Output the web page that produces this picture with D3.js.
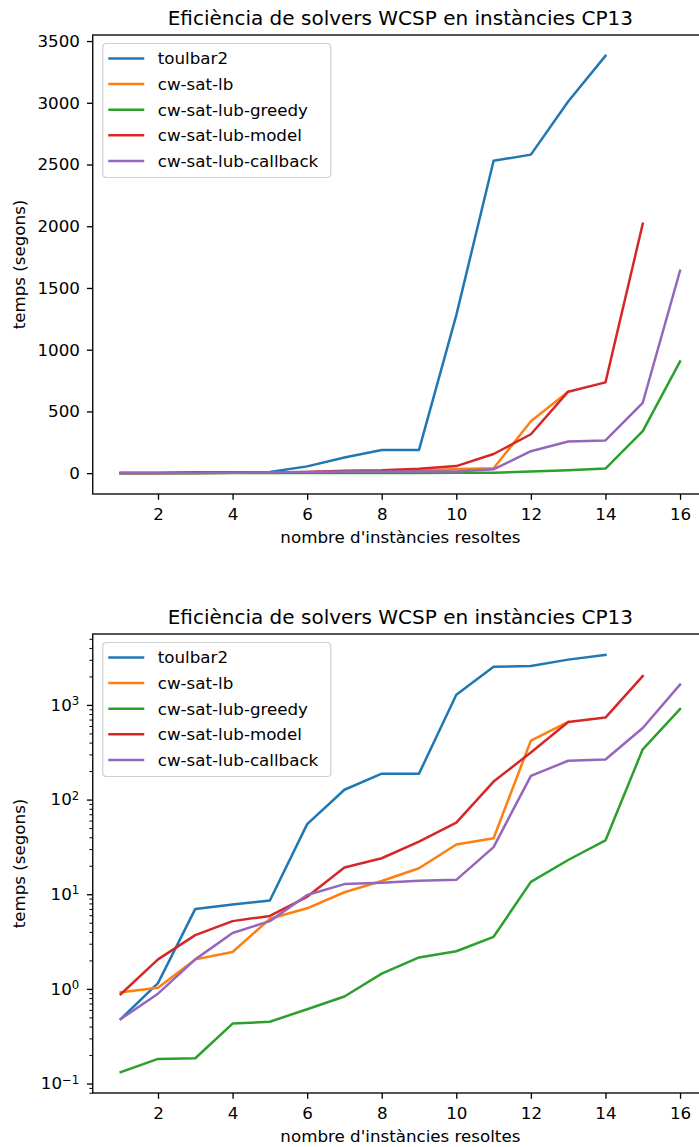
<!DOCTYPE html>
<html>
<head>
<meta charset="utf-8">
<script src="https://cdn.jsdelivr.net/npm/d3@7"></script>
<style>
  body { margin: 0; background: #fff; }
  svg { display: block; font-family: "DejaVu Sans", sans-serif; }
</style>
</head>
<body>
<div id="container"></div>
<script>
var W = 699, H = 1147;
var FS = 16.7;

var TITLE = "Eficiència de solvers WCSP en instàncies CP13";
var XLABEL = "nombre d'instàncies resoltes";
var YLABEL = "temps (segons)";

var seriesNames = ["toulbar2", "cw-sat-lb", "cw-sat-lub-greedy", "cw-sat-lub-model", "cw-sat-lub-callback"];
var seriesColors = ["#1f77b4", "#ff7f0e", "#2ca02c", "#d62728", "#9467bd"];

// temps per nombre d'instàncies resoltes (x = 1..n)
var toulbar2 = [0.48, 1.15, 7.0, 7.8, 8.6, 55, 127, 188, 188, 1280, 2530, 2580, 3010, 3380];
var cwSatLb = [0.92, 1.03, 2.05, 2.45, 5.5, 7.1, 10.5, 13.8, 18.8, 33.5, 39, 420, 660];
var cwSatLubGreedy = [0.132, 0.182, 0.185, 0.43, 0.45, 0.61, 0.83, 1.45, 2.15, 2.5, 3.55, 13.5, 23, 37, 340, 905];
var cwSatLubModel = [0.88, 2.05, 3.7, 5.2, 5.9, 9.4, 19.2, 24, 36, 57, 155, 315, 660, 735, 2020];
var cwSatLubCallback = [0.48, 0.89, 2.05, 3.9, 5.2, 9.8, 12.8, 13.2, 13.9, 14.2, 31.5, 178, 257, 265, 570, 1640];

var xTicks = [2, 4, 6, 8, 10, 12, 14, 16];
var yTicksLin = [0, 500, 1000, 1500, 2000, 2500, 3000, 3500];
var yExpLog = [-1, 0, 1, 2, 3];

var allSeries = [toulbar2, cwSatLb, cwSatLubGreedy, cwSatLubModel, cwSatLubCallback].map(function(vals, i){
  return { name: seriesNames[i], color: seriesColors[i],
    points: vals.map(function(v, j){ return { x: j + 1, y: v }; }) };
});

var svg = d3.select("#container").append("svg")
  .attr("width", W).attr("height", H);
svg.append("rect").attr("width", W).attr("height", H).attr("fill", "#fff");

var axL = 92.75, axR = 708;
var allPts = d3.merge(allSeries.map(function(s){ return s.points; }));
var xExt = d3.extent(allPts, function(d){ return d.x; });
var xPad = (xExt[1] - xExt[0]) * 0.05;
var x = d3.scaleLinear().domain([xExt[0] - xPad, xExt[1] + xPad]).range([axL, axR]);

function drawPanel(top, bottom, logScale){
  var g = svg.append("g");
  var yExt = d3.extent(allPts, function(d){ return d.y; });
  var y;
  if(logScale){
    var lo = Math.log10(yExt[0]), hi = Math.log10(yExt[1]);
    var p = (hi - lo) * 0.05;
    y = d3.scaleLog().domain([Math.pow(10, lo - p), Math.pow(10, hi + p)]).range([bottom, top]);
  }else{
    var pl = (yExt[1] - yExt[0]) * 0.05;
    y = d3.scaleLinear().domain([yExt[0] - pl, yExt[1] + pl]).range([bottom, top]);
  }

  var line = d3.line().x(function(d){ return x(d.x); }).y(function(d){ return y(d.y); });

  g.selectAll("path.series").data(allSeries).enter().append("path")
    .attr("class", "series")
    .attr("d", function(s){ return line(s.points); })
    .attr("fill", "none")
    .attr("stroke", function(s){ return s.color; })
    .attr("stroke-width", 2.5)
    .attr("stroke-linejoin", "round")
    .attr("stroke-linecap", "square");

  // spines
  g.append("rect").attr("x", axL).attr("y", top).attr("width", axR - axL).attr("height", bottom - top)
    .attr("fill", "none").attr("stroke", "#000").attr("stroke-width", 1.33);

  // x axis
  var xa = g.append("g").attr("transform", "translate(0," + bottom + ")")
    .call(d3.axisBottom(x).tickValues(xTicks).tickSize(5.8).tickSizeOuter(0).tickPadding(8.5).tickFormat(d3.format("d")));
  xa.select(".domain").remove();
  xa.selectAll("line").attr("stroke", "#000").attr("stroke-width", 1.33);
  xa.selectAll("text").attr("font-size", FS).attr("fill", "#000").attr("font-family", "DejaVu Sans");

  // y axis
  var ya;
  if(logScale){
    var majors = yExpLog.map(function(e){ return Math.pow(10, e); });
    var dom = y.domain();
    var minors = [];
    for(var e = -2; e <= 4; e++){
      for(var k = 2; k <= 9; k++){
        var v = k * Math.pow(10, e);
        if(v >= dom[0] && v <= dom[1]) minors.push(v);
      }
    }
    var ym = g.append("g").attr("transform", "translate(" + axL + ",0)")
      .call(d3.axisLeft(y).tickValues(minors).tickSize(3.3).tickSizeOuter(0).tickFormat(""));
    ym.select(".domain").remove();
    ym.selectAll("line").attr("stroke", "#000").attr("stroke-width", 1);

    ya = g.append("g").attr("transform", "translate(" + axL + ",0)")
      .call(d3.axisLeft(y).tickValues(majors).tickSize(5.8).tickSizeOuter(0).tickPadding(7).tickFormat(""));
    ya.selectAll(".tick").each(function(d){
      var t = d3.select(this).append("text")
        .attr("x", -13.5).attr("dy", "0.32em")
        .attr("text-anchor", "end").attr("fill", "#000")
        .attr("font-size", FS).attr("font-family", "DejaVu Sans");
      t.append("tspan").text("10");
      t.append("tspan").attr("dy", "-0.5em").attr("font-size", FS * 0.7)
        .text(String(Math.round(Math.log10(d))).replace("-", "\u2212"));
    });
  }else{
    ya = g.append("g").attr("transform", "translate(" + axL + ",0)")
      .call(d3.axisLeft(y).tickValues(yTicksLin).tickSize(5.8).tickSizeOuter(0).tickPadding(7).tickFormat(d3.format("d")));
    ya.selectAll("text").attr("font-size", FS).attr("fill", "#000").attr("font-family", "DejaVu Sans");
  }
  ya.select(".domain").remove();
  ya.selectAll("line").attr("stroke", "#000").attr("stroke-width", 1.33);

  // title and labels
  g.append("text").attr("x", (axL + axR) / 2).attr("y", top - 10)
    .attr("text-anchor", "middle").attr("font-size", 20).attr("fill", "#000").text(TITLE);
  g.append("text").attr("x", (axL + axR) / 2).attr("y", bottom + 49)
    .attr("text-anchor", "middle").attr("font-size", FS).attr("fill", "#000").text(XLABEL);
  g.append("text")
    .attr("transform", "translate(25," + ((top + bottom) / 2) + ") rotate(-90)")
    .attr("text-anchor", "middle").attr("font-size", FS).attr("fill", "#000").text(YLABEL);

  // legend
  var lx = axL + 10, ly = top + 8.5, rowH = 25.6;
  var leg = g.append("g").attr("transform", "translate(" + lx + "," + ly + ")");
  leg.append("rect").attr("width", 228).attr("height", 134).attr("rx", 3.5)
    .attr("fill", "#fff").attr("fill-opacity", 0.8).attr("stroke", "#d0d0d0").attr("stroke-width", 1.2);
  var items = leg.selectAll("g.item").data(allSeries).enter().append("g")
    .attr("transform", function(d, i){ return "translate(0," + (15 + i * rowH) + ")"; });
  items.append("line").attr("x1", 5.5).attr("x2", 41.5).attr("y1", 0).attr("y2", 0)
    .attr("stroke", function(d){ return d.color; }).attr("stroke-width", 2.5);
  items.append("text").attr("x", 55).attr("dy", "0.35em")
    .attr("font-size", FS).attr("fill", "#000").text(function(d){ return d.name; });
}

drawPanel(35, 494, false);
drawPanel(634, 1093, true);
</script>
</body>
</html>
